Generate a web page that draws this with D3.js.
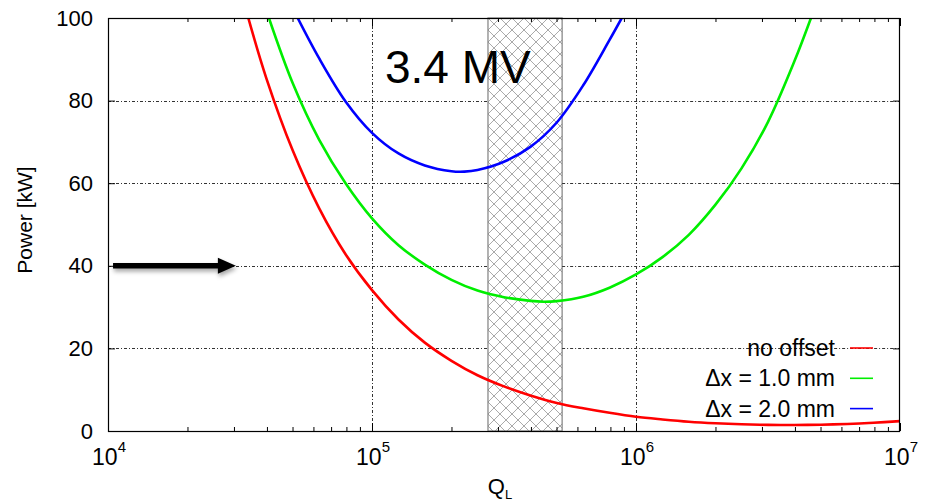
<!DOCTYPE html>
<html>
<head>
<meta charset="utf-8">
<script src="https://cdn.jsdelivr.net/npm/d3@7"></script>
<style>
  html, body { margin: 0; padding: 0; background: #fff; }
  svg { display: block; font-family: "Liberation Sans", Arial, Helvetica, sans-serif; }
</style>
</head>
<body>
<svg id="chart" width="928" height="502"></svg>
<script>
// ---- data ----
const seriesNames = ["no offset", "\u0394x = 1.0 mm", "\u0394x = 2.0 mm"];
const seriesColors = ["#ff0000", "#00ee00", "#0000ff"];

const qNoOffset = [3.40e4, 3.98e4, 5.01e4, 6.31e4, 7.94e4, 1.0e5, 1.26e5, 1.585e5, 2.0e5, 2.51e5, 3.16e5, 3.98e5, 5.01e5, 6.31e5, 7.94e5, 1.0e6, 1.26e6, 1.585e6, 2.0e6, 2.51e6, 3.16e6, 3.98e6, 5.01e6, 6.31e6, 7.94e6, 1.0e7];
const pNoOffset = [100, 85.4, 67.9, 53.9, 42.8, 34.1, 27.0, 21.4, 17.0, 13.5, 10.8, 8.6, 6.8, 5.5, 4.4, 3.45, 2.8, 2.25, 1.87, 1.62, 1.48, 1.45, 1.53, 1.71, 2.0, 2.4];

const q1mm = [4.07e4, 5.01e4, 6.31e4, 7.94e4, 1.0e5, 1.26e5, 1.585e5, 2.0e5, 2.51e5, 3.16e5, 3.98e5, 4.47e5, 5.01e5, 6.31e5, 7.94e5, 1.0e6, 1.26e6, 1.585e6, 2.0e6, 2.51e6, 3.16e6, 3.98e6, 4.6e6];
const p1mm = [100, 84.2, 70.5, 60, 51.5, 45.0, 40.3, 36.6, 34.0, 32.4, 31.5, 31.3, 31.45, 32.5, 34.7, 37.9, 42.1, 47.5, 54.8, 63.6, 74.8, 89.5, 100];

const q2mm = [5.23e4, 6.31e4, 7.94e4, 1.0e5, 1.26e5, 1.585e5, 2.0e5, 2.24e5, 2.51e5, 3.16e5, 3.98e5, 5.01e5, 6.31e5, 7.94e5, 8.83e5];
const p2mm = [100, 90.2, 79.8, 72.2, 67.2, 64.3, 62.9, 62.8, 63.2, 65.2, 68.8, 74.7, 83.7, 94.7, 100];

const xTickExponents = [4, 5, 6, 7];
const yTicks = [0, 20, 40, 60, 80, 100];
const hatchRange = [2.75e5, 5.25e5];
const arrowFrom = [1.045e4, 40];
const arrowTo = [3.05e4, 40];
const voltageLabel = "3.4 MV";
const yLabel = "Power [kW]";

// ---- layout ----
const mLeft = 108, mRight = 900, mTop = 18, mBottom = 431;
const svg = d3.select("#chart");
const x = d3.scaleLog().domain([1e4, 1e7]).range([mLeft, mRight]);
const y = d3.scaleLinear().domain([0, 100]).range([mBottom, mTop]);

const defs = svg.append("defs");
defs.append("clipPath").attr("id", "clip")
  .append("rect").attr("x", mLeft).attr("y", mTop).attr("width", mRight - mLeft).attr("height", mBottom - mTop);

const P = 12;
const pat = defs.append("pattern").attr("id", "hatch")
  .attr("patternUnits", "userSpaceOnUse").attr("width", P).attr("height", P)
  .attr("x", x(hatchRange[0])).attr("y", mTop);
pat.append("path").attr("d", `M0,0 L${P},${P} M${P},0 L0,${P} M-1,${P-1} L1,${P+1} M${P-1},-1 L${P+1},1 M${P-1},${P+1} L${P+1},${P-1} M-1,1 L1,-1`)
  .attr("stroke", "#9a9a9a").attr("stroke-width", 0.85).attr("fill", "none");

const shadow = defs.append("filter").attr("id", "shadow").attr("x", "-20%").attr("y", "-100%").attr("width", "140%").attr("height", "300%");
shadow.append("feDropShadow").attr("dx", 1).attr("dy", 3).attr("stdDeviation", 2).attr("flood-color", "#000").attr("flood-opacity", 0.35);

// hatched band
svg.append("rect")
  .attr("x", x(hatchRange[0])).attr("y", mTop)
  .attr("width", x(hatchRange[1]) - x(hatchRange[0])).attr("height", mBottom - mTop)
  .attr("fill", "url(#hatch)").attr("stroke", "#808080").attr("stroke-width", 1.2);

// grid
const gridStyle = g => g.attr("stroke", "#333").attr("stroke-width", 1).attr("stroke-dasharray", "3,2,1,2");
yTicks.filter(v => v > 0 && v < 100).forEach(v => {
  const yy = Math.round(y(v)) + 0.5;
  const segs = [[mLeft, x(hatchRange[0])], [x(hatchRange[1]), mRight]];
  segs.forEach(s => svg.append("line").attr("x1", s[0]).attr("x2", s[1]).attr("y1", yy).attr("y2", yy).call(gridStyle));
});
xTickExponents.filter(e => e > 4 && e < 7).forEach(e => {
  const xx = Math.round(x(Math.pow(10, e))) + 0.5;
  svg.append("line").attr("x1", xx).attr("x2", xx).attr("y1", mTop).attr("y2", mBottom).call(gridStyle);
});

// axes (ticks inside, mirrored)
const majorX = xTickExponents.map(e => Math.pow(10, e));
const minorX = [];
for (let e = 4; e < 7; e++) for (let m = 2; m <= 9; m++) minorX.push(m * Math.pow(10, e));

function styleAxis(g) {
  g.select(".domain").remove();
  g.selectAll(".tick line").attr("stroke", "#000");
}
svg.append("g").attr("transform", `translate(0,${mBottom})`)
  .call(d3.axisBottom(x).tickValues(majorX).tickSize(-8).tickFormat("")).call(styleAxis);
svg.append("g").attr("transform", `translate(0,${mBottom})`)
  .call(d3.axisBottom(x).tickValues(minorX).tickSize(-4).tickFormat("")).call(styleAxis);
svg.append("g").attr("transform", `translate(0,${mTop})`)
  .call(d3.axisTop(x).tickValues(majorX).tickSize(-8).tickFormat("")).call(styleAxis);
svg.append("g").attr("transform", `translate(0,${mTop})`)
  .call(d3.axisTop(x).tickValues(minorX).tickSize(-4).tickFormat("")).call(styleAxis);

const yAxis = svg.append("g").attr("transform", `translate(${mLeft},0)`)
  .call(d3.axisLeft(y).tickValues(yTicks).tickSize(-7).tickPadding(15).tickFormat(d3.format("d")));
yAxis.call(styleAxis);
yAxis.selectAll("text").attr("font-size", 22).attr("fill", "#000").attr("font-family", "Liberation Sans, Arial, sans-serif");
svg.append("g").attr("transform", `translate(${mRight},0)`)
  .call(d3.axisRight(y).tickValues(yTicks).tickSize(-7).tickFormat("")).call(styleAxis);

// x tick labels 10^n
xTickExponents.forEach(e => {
  const t = svg.append("text").attr("x", x(Math.pow(10, e)) + 1).attr("y", 465)
    .attr("text-anchor", "middle").attr("font-size", 23).attr("fill", "#000");
  t.append("tspan").text("10");
  t.append("tspan").attr("font-size", 15).attr("dy", -13).text(String(e));
});

// curves
const line = d3.line().x(d => x(d[0])).y(d => y(d[1])).curve(d3.curveCatmullRom.alpha(0.5));
const series = [d3.zip(qNoOffset, pNoOffset), d3.zip(q1mm, p1mm), d3.zip(q2mm, p2mm)];
const plot = svg.append("g").attr("clip-path", "url(#clip)");
series.forEach((s, i) => {
  plot.append("path").datum(s).attr("d", line)
    .attr("fill", "none").attr("stroke", seriesColors[i]).attr("stroke-width", 2.6)
    .attr("stroke-linejoin", "round");
});

// frame
svg.append("rect").attr("x", mLeft + 0.5).attr("y", mTop + 0.5)
  .attr("width", mRight - mLeft - 1).attr("height", mBottom - mTop)
  .attr("fill", "none").attr("stroke", "#000").attr("stroke-width", 1.2);

// legend
series.forEach((s, i) => {
  const ly = 348 + i * 30.3;
  svg.append("text").attr("x", 835).attr("y", ly + 8).attr("text-anchor", "end")
    .attr("font-size", 23).attr("fill", "#000").text(seriesNames[i]);
  svg.append("line").attr("x1", 850).attr("x2", 873).attr("y1", ly).attr("y2", ly)
    .attr("stroke", seriesColors[i]).attr("stroke-width", 1.6);
});

// annotation text
svg.append("text").attr("x", 385).attr("y", 83).attr("font-size", 46).attr("fill", "#000").text(voltageLabel);

// arrow
const ax0 = x(arrowFrom[0]), ax1 = x(arrowTo[0]), ay = y(arrowFrom[1]);
const ag = svg.append("g").attr("filter", "url(#shadow)");
ag.append("line").attr("x1", ax0).attr("x2", ax1 - 16).attr("y1", ay).attr("y2", ay)
  .attr("stroke", "#000").attr("stroke-width", 5.5);
ag.append("path").attr("d", `M${ax1},${ay} L${ax1 - 18},${ay - 8} L${ax1 - 18},${ay + 8} Z`).attr("fill", "#000");

// axis titles
svg.append("text").attr("transform", `translate(32,220) rotate(-90)`).attr("text-anchor", "middle")
  .attr("font-size", 21).attr("fill", "#000").text(yLabel);
const xt = svg.append("text").attr("x", 500).attr("y", 494).attr("text-anchor", "middle").attr("font-size", 22).attr("fill", "#000");
xt.append("tspan").text("Q");
xt.append("tspan").attr("font-size", 13).attr("dy", 5).text("L");
</script>
</body>
</html>
